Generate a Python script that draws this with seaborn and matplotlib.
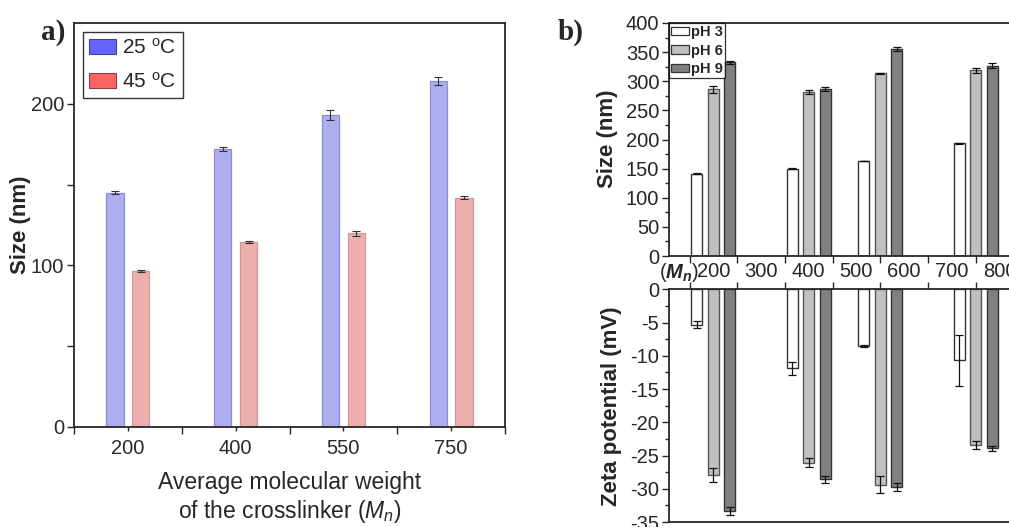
import matplotlib
matplotlib.use("Agg")
import matplotlib.pyplot as plt
from matplotlib.patches import Patch
from matplotlib.container import BarContainer
from matplotlib.ticker import MultipleLocator, FixedLocator, NullFormatter
import seaborn as sns
import pandas as pd
import numpy as np

# ---------------- data ----------------
mn_labels = ["200", "400", "550", "750"]
mn_values = [200, 400, 550, 750]

size_25 = [145, 172, 193, 214]
err_25 = [1.0, 1.5, 3.0, 2.5]
size_45 = [96.5, 114.5, 120, 142]
err_45 = [0.5, 0.6, 1.5, 0.8]

temp_labels = ["25 $^{\\mathrm{o}}$C", "45 $^{\\mathrm{o}}$C"]
ph_labels = ["pH 3", "pH 6", "pH 9"]

size_ph3 = [141, 150, 163, 193.5]
err_size_ph3 = [1.0, 0.6, 0.6, 1.0]
size_ph6 = [286, 282, 313.5, 319]
err_size_ph6 = [5.5, 3.4, 1.0, 4.0]
size_ph9 = [332.5, 287, 355, 327]
err_size_ph9 = [2.6, 3.0, 3.7, 4.5]

zeta_ph3 = [-5.3, -11.9, -8.6, -10.7]
err_zeta_ph3 = [0.5, 1.0, 0.15, 3.8]
zeta_ph6 = [-27.9, -26.1, -29.4, -23.35]
err_zeta_ph6 = [1.05, 0.7, 1.3, 0.6]
zeta_ph9 = [-33.3, -28.6, -29.7, -23.9]
err_zeta_ph9 = [0.6, 0.5, 0.6, 0.4]

# ---------------- style ----------------
sns.set_style("ticks")
plt.rcParams["font.family"] = ["Liberation Sans", "DejaVu Sans"]
plt.rcParams["axes.unicode_minus"] = False
plt.rcParams["mathtext.fontset"] = "custom"
plt.rcParams["mathtext.rm"] = "Liberation Sans"
plt.rcParams["mathtext.it"] = "Liberation Sans:italic"
plt.rcParams["mathtext.bf"] = "Liberation Sans:bold"
plt.rcParams["mathtext.bfit"] = "Liberation Sans:bold:italic"

W, H = 1009, 527
fig = plt.figure(figsize=(W / 100, H / 100), dpi=100)

def box(l, t, r, b):
    return [l / W, 1 - b / H, (r - l) / W, (b - t) / H]

axa = fig.add_axes(box(74, 23, 505, 427))
axb1 = fig.add_axes(box(669, 23, 1009, 256))
axb2 = fig.add_axes(box(669, 289.3, 1009, 522))

def bar_containers(ax):
    return [c for c in ax.containers if isinstance(c, BarContainer)]

# ---------------- panel a ----------------
df_a = pd.DataFrame({
    "Mn": mn_labels * 2,
    "size": size_25 + size_45,
    "T": [temp_labels[0]] * 4 + [temp_labels[1]] * 4,
})
fills_a = ["#A3A3FA", "#F9A3A3"]
edges_a = ["#8C8CD8", "#CC9999"]
sns.barplot(df_a, x="Mn", y="size", hue="T", palette=fills_a, width=0.48,
            gap=1 / 3, errorbar=None, ax=axa, legend=False, linewidth=0.9)
errs_a = [err_25, err_45]
for i, cont in enumerate(bar_containers(axa)):
    for bar, e in zip(cont.patches, errs_a[i]):
        bar.set_edgecolor(edges_a[i])
        axa.errorbar(bar.get_x() + bar.get_width() / 2, bar.get_height(), yerr=e,
                     fmt="none", ecolor="#333333", elinewidth=0.8, capsize=3,
                     capthick=0.8, zorder=5)
axa.set_ylim(0, 250)
axa.set_xlim(-0.5, 3.5)
axa.yaxis.set_major_locator(FixedLocator([0, 100, 200]))
axa.yaxis.set_minor_locator(FixedLocator([50, 150]))
axa.xaxis.set_minor_locator(FixedLocator([-0.5, 0.5, 1.5, 2.5, 3.5]))
axa.tick_params(axis="both", which="both", direction="out", width=1.0,
                labelsize=14.5, labelcolor="#2a2a2a")
axa.tick_params(axis="y", which="both", length=5, pad=2)
axa.tick_params(axis="x", which="major", length=3, pad=6)
axa.tick_params(axis="x", which="minor", length=5)
for s in axa.spines.values():
    s.set_linewidth(1.3)
    s.set_visible(True)
axa.set_ylabel("Size (nm)", fontsize=16, fontweight="bold", labelpad=0)
axa.set_xlabel("Average molecular weight\nof the crosslinker ($\\mathit{M_n}$)",
               fontsize=16.5, labelpad=9, linespacing=1.2)
handles_a = [Patch(facecolor="#6464FF", edgecolor="#444488", lw=0.8),
             Patch(facecolor="#FF6464", edgecolor="#884444", lw=0.8)]
leg = axa.legend(handles_a, temp_labels, loc="upper left", fontsize=15,
                 frameon=True, fancybox=False, edgecolor="black",
                 handlelength=1.3, handleheight=0.7, labelspacing=0.65,
                 handletextpad=0.3, borderpad=0.3, borderaxespad=0.42)
leg.get_frame().set_linewidth(1.0)

# ---------------- panel b ----------------
fills_b = ["white", "#C0C0C0", "#808080"]
edges_b = ["#333333", "#555555", "#333333"]

df_b1 = pd.DataFrame({
    "Mn": mn_values * 3,
    "val": size_ph3 + size_ph6 + size_ph9,
    "pH": [ph_labels[0]] * 4 + [ph_labels[1]] * 4 + [ph_labels[2]] * 4,
})
df_b2 = pd.DataFrame({
    "Mn": mn_values * 3,
    "val": zeta_ph3 + zeta_ph6 + zeta_ph9,
    "pH": [ph_labels[0]] * 4 + [ph_labels[1]] * 4 + [ph_labels[2]] * 4,
})
errs_b1 = [err_size_ph3, err_size_ph6, err_size_ph9]
errs_b2 = [err_zeta_ph3, err_zeta_ph6, err_zeta_ph9]

for ax, df, errs in [(axb1, df_b1, errs_b1), (axb2, df_b2, errs_b2)]:
    sns.barplot(df, x="Mn", y="val", hue="pH", native_scale=True, width=0.69,
                gap=1 / 3, palette=fills_b, errorbar=None, ax=ax, legend=False,
                linewidth=1.0)
    for i, cont in enumerate(bar_containers(ax)):
        for bar, e in zip(cont.patches, errs[i]):
            bar.set_edgecolor(edges_b[i])
            y = bar.get_y() + bar.get_height()
            ax.errorbar(bar.get_x() + bar.get_width() / 2, y, yerr=e,
                        fmt="none", ecolor="#111111", elinewidth=0.9,
                        capsize=3, capthick=0.9, zorder=5)
    ax.set_xlim(107, 820)
    ax.set_xlabel("")
    ax.set_ylabel("")
    ax.spines["right"].set_visible(False)
    for s in ["left", "top", "bottom"]:
        ax.spines[s].set_visible(True)
        ax.spines[s].set_linewidth(1.3)
    ax.tick_params(axis="y", which="major", direction="out", length=5,
                   width=1.0, labelsize=14.5, pad=2)
    ax.tick_params(axis="y", which="minor", direction="out", length=3,
                   width=1.0)

# top (size) axes
axb1.set_ylim(0, 400)
axb1.yaxis.set_major_locator(MultipleLocator(50))
axb1.yaxis.set_minor_locator(MultipleLocator(25))
axb1.xaxis.set_major_locator(FixedLocator([150, 250, 350, 450, 550, 650, 750]))
axb1.xaxis.set_major_formatter(NullFormatter())
axb1.tick_params(axis="x", which="major", direction="out", length=5, width=1.0)

# bottom (zeta) axes
axb2.set_ylim(-35, 0)
axb2.yaxis.set_major_locator(MultipleLocator(5))
axb2.yaxis.set_minor_locator(MultipleLocator(2.5))
axb2.xaxis.tick_top()
axb2.xaxis.set_major_locator(FixedLocator([200, 300, 400, 500, 600, 700, 800]))
axb2.xaxis.set_minor_locator(FixedLocator([150, 250, 350, 450, 550, 650, 750]))
axb2.tick_params(axis="x", which="major", length=0, labelsize=14.5, pad=6,
                 top=True, labeltop=True, bottom=False, labelbottom=False)
axb2.tick_params(axis="x", which="minor", direction="out", length=5, width=1.0,
                 top=True, bottom=False)

handles_b = [Patch(facecolor=c, edgecolor="#333333", lw=0.9) for c in fills_b]
legb = axb1.legend(handles_b, ph_labels, loc="upper left", bbox_to_anchor=(0, 1),
                   prop={"weight": "bold", "size": 10.5}, frameon=True,
                   fancybox=False, edgecolor="black", handlelength=1.2,
                   handleheight=0.5, labelspacing=0.3, handletextpad=0.15,
                   borderpad=0.15, borderaxespad=0.0)
legb.get_frame().set_linewidth(0.9)

# y labels of panel b
fig.text(607 / W, 1 - 139 / H, "Size (nm)", rotation=90, ha="center",
         va="center", fontsize=16, fontweight="bold")
fig.text(612 / W, 1 - 406 / H, "Zeta potential (mV)", rotation=90,
         ha="center", va="center", fontsize=16, fontweight="bold")
fig.text(679 / W, 1 - 272 / H, "($\\mathbfit{M_n}$)", ha="center",
         va="center", fontsize=14.5)

# panel letters
fig.text(53 / W, 1 - 32 / H, "a)", fontsize=21, fontweight="bold",
         family="Liberation Serif", ha="center", va="center")
fig.text(571 / W, 1 - 32 / H, "b)", fontsize=21, fontweight="bold",
         family="Liberation Serif", ha="center", va="center")

fig.savefig("out.png", dpi=100)
